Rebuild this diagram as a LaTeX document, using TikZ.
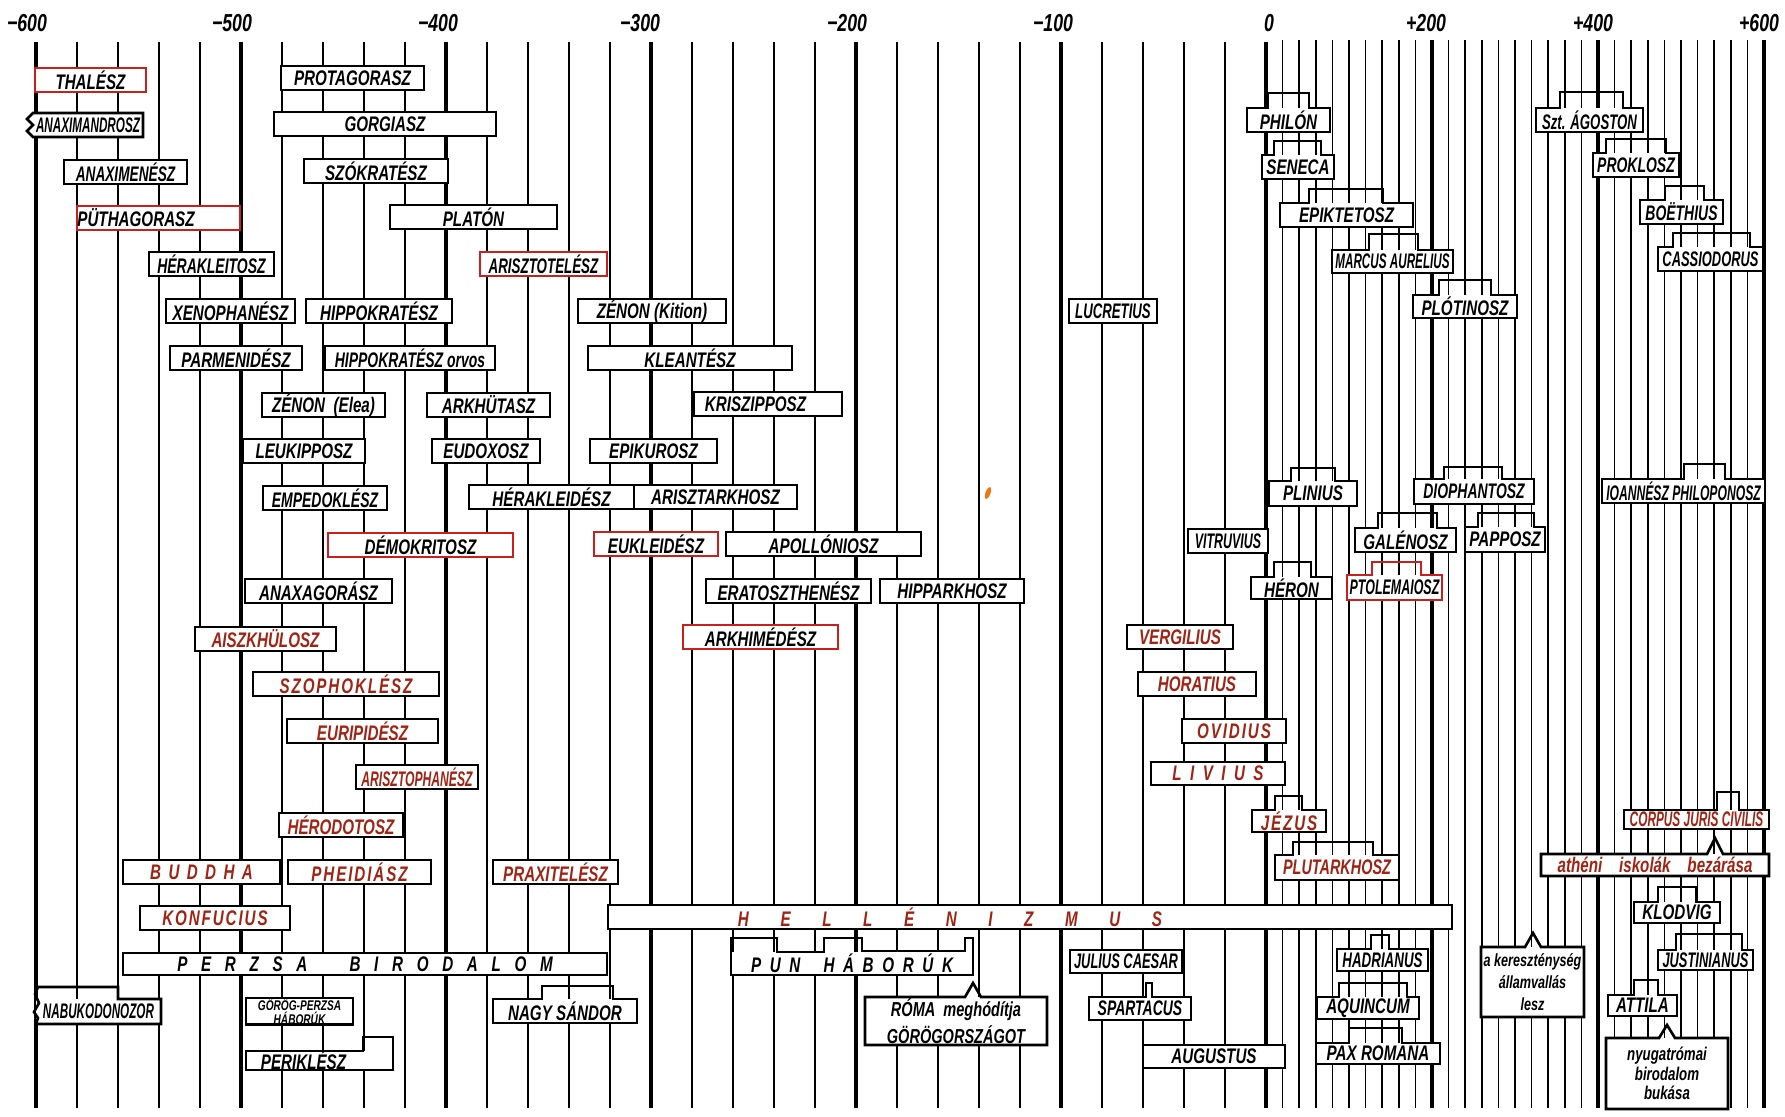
\documentclass[tikz,border=0pt]{standalone}
\usepackage{fontspec}
\usepackage{graphicx}
\usepackage{xcolor}
\usepackage{tikz}
\usetikzlibrary{positioning}

\setmainfont{Liberation Sans}
\newfontfamily\lab{Liberation Sans}[FakeStretch=0.72]

\definecolor{boxred}{RGB}{205,30,30}
\definecolor{txtred}{RGB}{160,35,20}
\definecolor{stain}{RGB}{235,120,20}

\newcommand\sq[2]{\scalebox{#1}[1]{#2}}
\newcommand\gp[1]{\hspace{#1em}}
% box outline with a raised step on top: [style] node, step from, step to, step top
\newcommand\tabbed[5][]{\draw[outl,#1] (#2.north west) -| (#3,#5) -- (#4,#5) |- (#2.north east) -- (#2.south east) -- (#2.south west) -- cycle;}
% box outline with a small point on top: node, point x, point y
\newcommand\peaked[3]{\coordinate (#1-l) at (#2-8,#3); \coordinate (#1-r) at (#2+8,#3);
  \draw[outl] (#1.north west) -- (#1-l |- #1.north) -- (#2,#3) -- (#1-r |- #1.north) -- (#1.north east) -- (#1.south east) -- (#1.south west) -- cycle;}

\begin{document}
\begin{tikzpicture}[x=0.02cm, y=-0.02cm,
  grid/.style={line width=1pt},
  thin grid/.style={line width=0.85pt},
  century/.style={line width=2pt},
  box/.style={draw, line width=1.5pt, fill=white, anchor=north west, inner sep=0pt, outer sep=0pt,
    minimum height=0.48cm, font=\lab\itshape\bfseries\fontsize{12}{14}\selectfont},
  span/.style 2 args={minimum width={(#2-#1)*0.02cm}},
  tall/.style={minimum height={#1*0.02cm}},
  redbox/.style={draw=boxred},
  redtext/.style={text=txtred},
  open/.style={draw=none},
  outl/.style={line width=1.5pt},
  year/.style={font=\lab\itshape\bfseries\fontsize{14}{16}\selectfont}
]
\fill[white] (0,0) rectangle (1785,1116);
\useasboundingbox (0,0) rectangle (1785,1116);

% time scale: one line every 20 years
\foreach \k in {0,...,30} \draw[grid] ({36+41*\k},42) -- ({36+41*\k},1108);
\foreach \k in {0,5,...,30} \draw[century] ({36+41*\k},42) -- ({36+41*\k},1108);
\foreach \j in {1,...,30} \draw[thin grid] ({1266+16.6*\j},40) -- ({1266+16.6*\j},1108);
\foreach \j in {10,20,30} \draw[century] ({1266+16.6*\j},40) -- ({1266+16.6*\j},1108);
\foreach \x/\yr [count=\i] in {27/−600, 232/−500, 438/−400, 640/−300, 847/−200, 1053/−100, 1269/0, 1426/+200, 1593/+400, 1759/+600}
  \node[year] (yr\i) at (\x,23) {\yr};

% greek thinkers
\node[box, redbox, span={35}{146}] (thalesz) at (35,68) {THALÉSZ};
\node[box, open, span={33}{143}] (anaximandrosz) at (33,113) {\sq{0.77}{ANAXIMANDROSZ}};
\draw[outl] (anaximandrosz.south west) -- (27,131) -- (33,125) -- (27,119) -- (anaximandrosz.north west) -- (anaximandrosz.north east) -- (anaximandrosz.south east) -- cycle;
\node[box, span={64}{187}] (anaximenesz) at (64,160) {\sq{0.9}{ANAXIMENÉSZ}};
\node[box, redbox, span={77}{240}] (puthagorasz) at (77,206) {PÜTHAGORASZ\hspace{0.9cm}\mbox{}};
\node[box, span={149}{274}] (herakleitosz) at (149,252) {\sq{0.92}{HÉRAKLEITOSZ}};
\node[box, span={166}{295}] (xenophanesz) at (166,299) {XENOPHANÉSZ};
\node[box, span={170}{302}] (parmenidesz) at (170,346) {PARMENIDÉSZ};
\node[box, span={281}{424}] (protagorasz) at (281,66) {PROTAGORASZ};
\node[box, span={274}{496}] (gorgiasz) at (274,112) {GORGIASZ};
\node[box, span={304}{448}] (szokratesz) at (304,159) {SZÓKRATÉSZ};
\node[box, span={390}{557}] (platon) at (390,205) {PLATÓN};
\node[box, redbox, span={480}{607}] (arisztotelesz) at (480,252) {\sq{0.88}{ARISZTOTELÉSZ}};
\node[box, span={306}{452}] (hippokratesz) at (306,299) {HIPPOKRATÉSZ};
\node[box, span={325}{495}] (orvos) at (325,346) {\sq{0.92}{HIPPOKRATÉSZ orvos}};
\node[box, span={262}{385}] (zenonelea) at (262,393) {ZÉNON\ \ (Elea)};
\node[box, span={427}{550}] (arkhutasz) at (427,393) {ARKHÜTASZ};
\node[box, span={243}{365}] (leukipposz) at (243,439) {LEUKIPPOSZ};
\node[box, span={432}{540}] (eudoxosz) at (432,439) {EUDOXOSZ};
\node[box, span={263}{387}] (empedoklesz) at (263,486) {\sq{0.92}{EMPEDOKLÉSZ}};
\node[box, span={469}{634}] (herakleidesz) at (469,485) {HÉRAKLEIDÉSZ};
\node[box, redbox, span={328}{513}] (demokritosz) at (328,533) {DÉMOKRITOSZ};
\node[box, span={245}{392}] (anaxagorasz) at (245,579) {ANAXAGORÁSZ};
\node[box, span={578}{726}] (zenonkition) at (578,299) {ZÉNON (Kition)};
\node[box, span={588}{792}] (kleantesz) at (588,346) {KLEANTÉSZ};
\node[box, span={694}{842}] (krisziposz) at (694,392) {KRISZIPPOSZ\hspace{0.5cm}\mbox{}};
\node[box, span={590}{717}] (epikurosz) at (590,439) {EPIKUROSZ};
\node[box, span={634}{797}] (arisztarkhosz) at (634,485) {ARISZTARKHOSZ};
\node[box, redbox, span={594}{718}] (eukleidesz) at (594,532) {EUKLEIDÉSZ};
\node[box, span={726}{921}] (apolloniosz) at (726,532) {APOLLÓNIOSZ};
\node[box, span={706}{871}] (eratosztenesz) at (706,579) {ERATOSZTHENÉSZ};
\node[box, span={880}{1024}] (hipparkhosz) at (880,579) {HIPPARKHOSZ};
\node[box, redbox, span={683}{838}] (arkhimedesz) at (683,625) {ARKHIMÉDÉSZ};
\node[box, span={1069}{1157}] (lucretius) at (1069,299) {\sq{0.87}{LUCRETIUS}};
\node[box, span={1188}{1268}] (vitruvius) at (1188,529) {\sq{0.82}{VITRUVIUS}};

% poets, historians, artists
\node[box, redtext, span={195}{336}] (aiszkhulosz) at (195,627) {AISZKHÜLOSZ};
\node[box, redtext, span={253}{439}] (szophoklesz) at (253,672) {S\gp{.09}Z\gp{.09}O\gp{.09}P\gp{.09}H\gp{.09}O\gp{.09}K\gp{.09}L\gp{.09}É\gp{.09}S\gp{.09}Z};
\node[box, redtext, span={287}{438}] (euripidesz) at (287,719) {EURIPIDÉSZ};
\node[box, redtext, span={356}{478}] (arisztophanesz) at (356,765) {\sq{0.8}{ARISZTOPHANÉSZ}};
\node[box, redtext, span={279}{403}] (herodotosz) at (279,813) {HÉRODOTOSZ};
\node[box, redtext, span={123}{280}] (buddha) at (123,860) {B\gp{.35}U\gp{.35}D\gp{.35}D\gp{.35}H\gp{.35}A};
\node[box, redtext, span={288}{431}] (pheidiasz) at (288,860) {P\gp{.09}H\gp{.09}E\gp{.09}I\gp{.09}D\gp{.09}I\gp{.09}Á\gp{.09}S\gp{.09}Z};
\node[box, redtext, span={493}{618}] (praxitelesz) at (493,860) {PRAXITELÉSZ};
\node[box, redtext, span={140}{290}] (konfucius) at (140,906) {K\gp{.09}O\gp{.09}N\gp{.09}F\gp{.09}U\gp{.09}C\gp{.09}I\gp{.09}U\gp{.09}S};
\node[box, redtext, span={1127}{1233}] (vergilius) at (1127,625) {VERGILIUS};
\node[box, redtext, span={1138}{1256}] (horatius) at (1138,672) {HORATIUS};
\node[box, redtext, span={1182}{1286}] (ovidius) at (1182,719) {O\gp{.09}V\gp{.09}I\gp{.09}D\gp{.09}I\gp{.09}U\gp{.09}S};
\node[box, redtext, span={1151}{1285}, tall=23] (livius) at (1151,762) {L\gp{.4}I\gp{.4}V\gp{.4}I\gp{.4}U\gp{.4}S};

% empires and events
\node[box, span={123}{607}, tall=22] (perzsa) at (123,953) {P\gp{.65}E\gp{.65}R\gp{.65}Z\gp{.65}S\gp{.65}A\gp{2}B\gp{.65}I\gp{.65}R\gp{.65}O\gp{.65}D\gp{.65}A\gp{.65}L\gp{.65}O\gp{.65}M};
\node[box, redtext, span={608}{1452}] (hellenizmus) at (608,905) {H\gp{1.5}E\gp{1.5}L\gp{1.5}L\gp{1.5}É\gp{1.5}N\gp{1.5}I\gp{1.5}Z\gp{1.5}M\gp{1.5}U\gp{1.5}S\hspace{3.2cm}\mbox{}};
\node[box, open, span={36}{161}, tall=25] (nabukodonozor) at (36,999) {\sq{0.77}{NABUKODONOZOR}};
\draw[outl] (nabukodonozor.south east) |- (118,999) |- (38,987) -- (35,994) -- (39,1003) -- (34,1012) -- (38,1018) -- (nabukodonozor.south west) -- cycle;
\node[box, span={246}{353}, tall=25, align=center, font=\lab\itshape\bfseries\fontsize{8}{7}\selectfont] (gorogperzsa) at (246,998) {GÖRÖG-PERZSA\\HÁBORÚK};
\node[box, open, span={246}{393}, tall=18] (periklesz) at (246,1051) {PERIKLÉSZ\hspace{0.64cm}\mbox{}};
\tabbed{periklesz}{363}{393}{1037}
\node[box, open, span={493}{637}] (nagysandor) at (493,999) {NAGY SÁNDOR};
\tabbed{nagysandor}{542}{613}{986}
\node[box, open, span={731}{973}, tall=23] (punhaboruk) at (731,952) {P\gp{.41}U\gp{.41}N\gp{1.1}H\gp{.41}Á\gp{.41}B\gp{.41}O\gp{.41}R\gp{.41}Ú\gp{.41}K};
\draw[outl] (punhaboruk.south west) |- (777,938) |- (824,952) |- (862,938) |- (965,951) |- (973,938) -- (punhaboruk.south east) -- cycle;
\node[box, open, span={865}{1047}, tall=48, align=center, font=\lab\itshape\bfseries\fontsize{11.5}{15}\selectfont] (roma) at (865,997) {RÓMA\ \ meghódítja\\GÖRÖGORSZÁGOT};
\peaked{roma}{973}{983}
\node[box, span={1070}{1182}, tall=23] (julius) at (1070,950) {\sq{0.85}{JULIUS CAESAR}};
\node[box, open, span={1089}{1191}, tall=23] (spartacus) at (1089,997) {\sq{0.92}{SPARTACUS}};
\tabbed{spartacus}{1146}{1152}{983}
\node[box, span={1143}{1285}, tall=23] (augustus) at (1143,1045) {AUGUSTUS};

% the christian era
\node[box, open, span={1247}{1330}] (philon) at (1247,108) {PHILÓN};
\tabbed{philon}{1268}{1309}{93}
\node[box, open, span={1262}{1334}] (seneca) at (1262,155) {SENECA};
\tabbed{seneca}{1274}{1321}{141}
\node[box, open, span={1280}{1413}] (epiktetosz) at (1280,203) {EPIKTETOSZ};
\tabbed{epiktetosz}{1309}{1383}{189}
\node[box, open, span={1332}{1453}, tall=23] (marcus) at (1332,250) {\sq{0.77}{MARCUS AURELIUS}};
\tabbed{marcus}{1369}{1418}{234}
\node[box, open, span={1413}{1517}, tall=23] (plotinosz) at (1413,295) {PLÓTINOSZ};
\tabbed{plotinosz}{1439}{1491}{280}
\node[box, open, span={1536}{1643}] (agoston) at (1536,108) {\sq{0.87}{Szt. ÁGOSTON}};
\tabbed{agoston}{1560}{1623}{92}
\node[box, open, span={1593}{1679}] (proklosz) at (1593,153) {\sq{0.92}{PROKLOSZ}};
\tabbed{proklosz}{1606}{1666}{139}
\node[box, open, span={1640}{1723}] (boethius) at (1640,200) {\sq{0.92}{BOËTHIUS}};
\tabbed{boethius}{1665}{1704}{186}
\node[box, open, span={1658}{1763}] (cassiodorus) at (1658,247) {\sq{0.85}{CASSIODORUS}};
\tabbed{cassiodorus}{1673}{1750}{233}
\node[box, open, span={1269}{1357}, tall=25] (plinius) at (1269,481) {PLINIUS};
\tabbed{plinius}{1291}{1335}{468}
\node[box, open, span={1251}{1332}, tall=22] (heron) at (1251,577) {HÉRON};
\tabbed{heron}{1274}{1311}{562}
\node[box, open, span={1355}{1456}] (galenosz) at (1355,528) {GALÉNOSZ};
\tabbed{galenosz}{1378}{1437}{513}
\node[box, open, span={1347}{1442}, tall=25] (ptolemaiosz) at (1347,575) {\sq{0.82}{PTOLEMAIOSZ}};
\tabbed[boxred]{ptolemaiosz}{1372}{1421}{562}
\node[box, open, span={1414}{1534}, tall=25] (diophantosz) at (1414,479) {\sq{0.92}{DIOPHANTOSZ}};
\tabbed{diophantosz}{1444}{1502}{467}
\node[box, open, span={1465}{1545}, tall=25] (papposz) at (1465,527) {PAPPOSZ};
\tabbed{papposz}{1478}{1534}{513}
\node[box, open, span={1602}{1765}] (ioannesz) at (1602,479) {\sq{0.8}{IOANNÉSZ PHILOPONOSZ}};
\tabbed{ioannesz}{1684}{1725}{464}
\node[box, open, redtext, span={1252}{1326}, tall=22] (jezus) at (1252,810) {J\gp{.09}É\gp{.09}Z\gp{.09}U\gp{.09}S};
\tabbed{jezus}{1275}{1302}{796}
\node[box, open, redtext, span={1275}{1399}, tall=25] (plutarkhosz) at (1275,855) {\sq{0.95}{PLUTARKHOSZ}};
\tabbed{plutarkhosz}{1293}{1373}{842}
\node[box, open, span={1337}{1428}, tall=22] (hadrianus) at (1337,949) {\sq{0.88}{HADRIANUS}};
\tabbed{hadrianus}{1371}{1389}{935}
\node[box, open, span={1317}{1419}, tall=22] (aquincum) at (1317,997) {AQUINCUM};
\tabbed{aquincum}{1339}{1407}{983}
\node[box, open, span={1316}{1440}, tall=21] (paxromana) at (1316,1043) {PAX ROMANA};
\tabbed{paxromana}{1349}{1402}{1028}
\node[box, open, span={1481}{1584}, tall=70, align=center, font=\lab\itshape\bfseries\fontsize{10}{12.5}\selectfont] (kereszteny) at (1481,947) {a kereszténység\\államvallás\\lesz};
\peaked{kereszteny}{1533}{933}
\node[box, open, redtext, span={1624}{1769}, tall=19] (corpus) at (1624,810) {\sq{0.78}{CORPUS JURIS CIVILIS}};
\tabbed{corpus}{1717}{1739}{792}
\node[box, open, redtext, span={1541}{1769}, tall=22, font=\lab\itshape\bfseries\fontsize{12}{14}\selectfont] (atheni) at (1541,854) {athéni\gp{.8}iskolák\gp{.8}bezárása};
\peaked{atheni}{1715}{838}
\node[box, open, span={1634}{1720}, tall=21] (klodvig) at (1634,902) {KLODVIG};
\tabbed{klodvig}{1658}{1696}{887}
\node[box, open, span={1658}{1753}, tall=20] (justinianus) at (1658,950) {\sq{0.85}{JUSTINIANUS}};
\tabbed{justinianus}{1676}{1742}{934}
\node[box, open, span={1608}{1677}, tall=21] (attila) at (1608,995) {ATTILA};
\tabbed{attila}{1634}{1658}{980}
\node[box, open, span={1606}{1728}, tall=71, align=center, font=\lab\itshape\bfseries\fontsize{10.5}{11}\selectfont] (nyugat) at (1606,1038) {nyugatrómai\\birodalom\\bukása};
\peaked{nyugat}{1667}{1025}

\fill[stain, rotate around={-20:(988,493)}] (988,493) ellipse [x radius=0.05cm, y radius=0.13cm];
\end{tikzpicture}
\end{document}
